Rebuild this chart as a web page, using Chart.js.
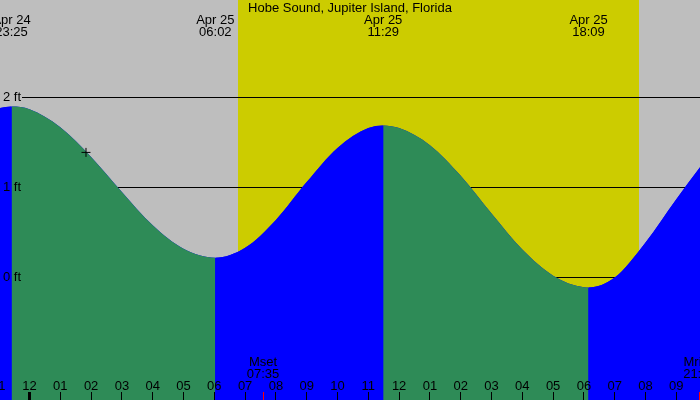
<!DOCTYPE html>
<html>
<head>
<meta charset="utf-8">
<script src="https://cdn.jsdelivr.net/npm/chart.js@4"></script>
<style>
  html, body { margin: 0; padding: 0; background: #bebebe; }
  #wrap { width: 700px; height: 400px; }
</style>
</head>
<body>
<div id="wrap"><canvas id="tideChart" width="700" height="400"></canvas></div>
<script>
// hours are counted from midnight Apr 25 (negative = Apr 24)
const title = 'Hobe Sound, Jupiter Island, Florida';

// high / low tides
const tideHours  = [-0.583, 6.033, 11.483, 18.15];
const tideLevels = [1.90, 0.22, 1.69, -0.11];
const tideDates  = ['Apr 24', 'Apr 25', 'Apr 25', 'Apr 25'];
const tideClock  = ['23:25', '06:02', '11:29', '18:09'];

// levels, on the hour
const readHours  = [-1, 0, 1, 2, 3, 4, 5, 7, 8, 9, 10, 11, 12, 13, 14, 15, 16, 17, 18, 19, 20, 21, 22];
const readLevels = [1.88, 1.87, 1.67, 1.34, 0.95, 0.58, 0.32, 0.33, 0.64, 1.06, 1.44, 1.66,
                    1.66, 1.47, 1.13, 0.71, 0.31, 0.02, -0.108, 0.00, 0.39, 0.87, 1.33];

// hour axis along the bottom
const hourTicks  = [-1, 0, 1, 2, 3, 4, 5, 6, 7, 8, 9, 10, 11, 12, 13, 14, 15, 16, 17, 18, 19, 20, 21];
const hourLabels = ['11', '12', '01', '02', '03', '04', '05', '06', '07', '08', '09', '10',
                    '11', '12', '01', '02', '03', '04', '05', '06', '07', '08', '09'];

// moon events
const moonHours = [7.583, 21.75];
const moonNames = ['Mset', 'Mrise'];
const moonClock = ['07:35', '21:45'];

// daylight
const sunrise = 6.77;
const sunset  = 19.8;

// level grid
const levelTicks  = [0, 1, 2];
const levelLabels = ['0 ft', '1 ft', '2 ft'];

// "now" marker
const markHours  = [1.834];
const markLevels = [1.39];

const NIGHT = '#bebebe';
const DAY   = '#cccc00';
const FALL  = '#2e8b57';
const RISE  = '#0000ff';
const FONT  = '13px "Liberation Sans", Arial, sans-serif';

// merge tides and hourly readings into one sorted series
const curve = tideHours.map((h, i) => ({x: h, y: tideLevels[i]}))
    .concat(readHours.map((h, i) => ({x: h, y: readLevels[i]})))
    .sort((a, b) => a.x - b.x);

const marks = markHours.map((h, i) => ({x: h, y: markLevels[i]}));

const tideDecor = {
    id: 'tideDecor',
    beforeDraw(chart) {
        const {ctx, scales: {x}} = chart;
        ctx.save();
        ctx.fillStyle = NIGHT;
        ctx.fillRect(0, 0, chart.width, chart.height);
        const x0 = Math.round(x.getPixelForValue(sunrise));
        const x1 = Math.round(x.getPixelForValue(sunset));
        ctx.fillStyle = DAY;
        ctx.fillRect(x0, 0, x1 - x0, chart.height);
        ctx.restore();
    },
    beforeDatasetsDraw(chart) {
        const {ctx, scales: {y}} = chart;
        ctx.save();
        ctx.strokeStyle = '#000';
        ctx.lineWidth = 1;
        levelTicks.forEach(v => {
            const py = Math.floor(y.getPixelForValue(v)) + 0.5;
            ctx.beginPath();
            ctx.moveTo(22, py);
            ctx.lineTo(chart.width, py);
            ctx.stroke();
        });
        ctx.restore();
    },
    afterDatasetsDraw(chart) {
        const {ctx, scales: {x, y}} = chart;
        const h = chart.height;
        ctx.save();
        ctx.font = FONT;
        ctx.fillStyle = '#000';
        ctx.textBaseline = 'alphabetic';

        // title
        ctx.textAlign = 'center';
        ctx.fillText(title, chart.width / 2, 12);

        // tide times at the top
        tideHours.forEach((t, i) => {
            const px = x.getPixelForValue(t);
            ctx.fillText(tideDates[i], px, 24);
            ctx.fillText(tideClock[i], px, 36);
        });

        // level labels
        ctx.textAlign = 'left';
        levelTicks.forEach((v, i) => {
            const py = Math.floor(y.getPixelForValue(v)) + 0.5;
            ctx.fillText(levelLabels[i], 3, py + 3.5);
        });

        // hour ticks and labels
        ctx.textAlign = 'center';
        hourTicks.forEach((t, i) => {
            const px = x.getPixelForValue(t);
            const w = t % 24 === 0 ? 3 : 1;
            ctx.fillRect(Math.floor(px) - (w - 1) / 2, h - 8, w, 8);
            ctx.fillText(hourLabels[i], px, h - 10.5);
        });

        // moon events
        moonHours.forEach((t, i) => {
            const px = x.getPixelForValue(t);
            ctx.fillStyle = '#ff0000';
            ctx.fillRect(Math.floor(px), h - 8, 1, 8);
            ctx.fillStyle = '#000';
            ctx.fillText(moonNames[i], px, h - 34);
            ctx.fillText(moonClock[i], px, h - 22);
        });
        ctx.restore();
    }
};

new Chart(document.getElementById('tideChart').getContext('2d'), {
    type: 'line',
    data: {
        datasets: [{
            data: marks,
            showLine: false,
            fill: false,
            pointStyle: 'cross',
            pointRadius: 4.5,
            pointBorderColor: '#000',
            pointBorderWidth: 1
        }, {
            // falling water green, rising water blue
            data: curve,
            fill: 'start',
            cubicInterpolationMode: 'monotone',
            borderColor: 'rgba(0,0,0,0)',
            borderWidth: 0,
            pointRadius: 0,
            backgroundColor: FALL,
            segment: {
                backgroundColor: c => c.p1.parsed.y < c.p0.parsed.y ? FALL : RISE
            }
        }, {
            // plain under-layer so the segment joins leave no light seam
            data: curve,
            fill: 'start',
            cubicInterpolationMode: 'monotone',
            borderColor: 'rgba(0,0,0,0)',
            borderWidth: 0,
            pointRadius: 0,
            backgroundColor: RISE
        }]
    },
    options: {
        responsive: false,
        animation: false,
        layout: { padding: 0, autoPadding: false },
        plugins: {
            legend: { display: false },
            tooltip: { enabled: false },
            title: { display: false }
        },
        scales: {
            x: { type: 'linear', min: -0.958, max: 21.769, display: false },
            y: { type: 'linear', min: -1.3611, max: 3.0833, display: false }
        }
    },
    plugins: [tideDecor]
});
</script>
</body>
</html>
